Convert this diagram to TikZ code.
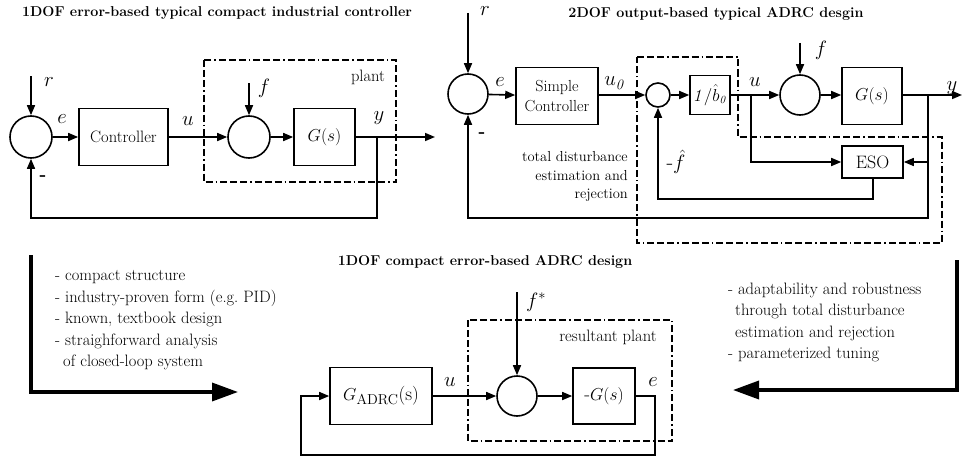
\documentclass[tikz,border=0pt]{standalone}
\usetikzlibrary{arrows.meta}
\tikzset{
  ln/.style={line width=1.6pt},
  ar/.style={line width=1.6pt,-{Triangle[length=10pt,width=8pt]}},
  big/.style={line width=3.5pt,-{Triangle[length=26pt,width=18pt]}},
  dd/.style={line width=1.5pt,dash pattern=on 7pt off 3pt on 7pt off 3pt on 7pt off 3pt on 1.5pt off 3pt},
  blk/.style={draw,line width=1.6pt,inner sep=0pt,font=\fontsize{16.5}{19}\selectfont,align=center},
  sumc/.style={draw,circle,line width=1.6pt,inner sep=0pt,minimum size=#1},
  lab/.style={inner sep=0pt,font=\fontsize{22}{22}\selectfont},
  txt/.style={inner sep=0pt,font=\fontsize{16.5}{20}\selectfont},
  ttl/.style={inner sep=0pt,font=\fontsize{14.3}{16}\selectfont\bfseries}
}
\begin{document}
\begin{tikzpicture}[x=1pt,y=-1pt]
\useasboundingbox (0,0) rectangle (966,460);
% ---------------- top left ----------------
\node[ttl] (t1) at (217,13) {1DOF error-based typical compact industrial controller};
\node[sumc=42pt] (s1) at (31,137) {};
\coordinate (r1) at (31,76);
\draw[ar] (r1) -- (s1);
\node[lab] (lr1) at (49,82) {$r$};
\node[blk,minimum width=89pt,minimum height=57pt] (ctl) at (123.5,137) {Controller};
\node[lab] (le1) at (62,119) {$e$};
\draw[ar] (s1) -- (ctl);
\draw[dd] (204,60) rectangle (396,182);
\node[txt] (pl) at (368,77) {plant};
\node[sumc=42pt] (s2) at (249,137) {};
\node[lab] (lu1) at (188,121) {$u$};
\draw[ar] (ctl) -- (s2);
\coordinate (f1) at (249,83);
\draw[ar] (f1) -- (s2);
\node[lab] (lf1) at (264,88) {$f$};
\node[blk,minimum width=61pt,minimum height=57pt,font=\fontsize{19}{19}\selectfont] (g1) at (324.5,137) {$G(s)$};
\draw[ar] (s2) -- (g1);
\coordinate (o1) at (435,137);
\coordinate (b1) at (377,137);
\coordinate (c1) at (377,218);
\draw[ar] (g1) -- (o1);
\draw[ar] (b1) -- (c1) -| (s1);
\node[lab] (ly1) at (379,118) {$y$};
\node[txt,font=\fontsize{18}{18}\selectfont\bfseries] (m1) at (43,178) {-};
% ---------------- top right ----------------
\node[ttl] (t2) at (716,14) {2DOF output-based typical ADRC desgin};
\node[sumc=40pt] (s3) at (468,94) {};
\coordinate (r2) at (468,13);
\draw[ar] (r2) -- (s3);
\node[lab] (lr2) at (485,11) {$r$};
\node[blk,minimum width=82pt,minimum height=57pt,font=\fontsize{16}{20}\selectfont] (sc) at (557,96) {Simple\\Controller};
\draw[ar] (s3) -- (sc);
\node[lab] (le2) at (500,82) {$e$};
\node[sumc=24pt] (s4) at (658,95) {};
\draw[ar] (sc.east |- s4) -- (s4);
\node[lab] (lu0) at (615,83) {$u_{\mathit{0}}$};
\node[blk,minimum width=40pt,minimum height=39pt,font=\fontsize{16}{16}\selectfont] (bb) at (710,95) {$\mathit{1}/\hat{b}_{\mathit{0}}$};
\draw[ar] (s4) -- (bb);
\node[sumc=40pt] (s5) at (800,95) {};
\draw[ar] (bb) -- (s5);
\node[lab] (lu2) at (755,82) {$u$};
\coordinate (f2) at (800,43);
\draw[ar] (f2) -- (s5);
\node[lab] (lf2) at (821,50) {$f$};
\node[blk,minimum width=60pt,minimum height=57pt,font=\fontsize{19}{19}\selectfont] (g2) at (872,96) {$G(s)$};
\draw[ar] (s5) -- (g2.west |- s5);
\coordinate (o2) at (962,95);
\draw[ar] (g2.east |- s5) -- (o2);
\node[lab] (ly2) at (952,88) {$y$};
\node[blk,minimum width=61pt,minimum height=32pt,font=\fontsize{18}{18}\selectfont] (eso) at (872.5,162) {ESO};
\coordinate (bu) at (751,95);
\coordinate (by) at (928,95);
\draw[ar] (bu) |- (eso);
\draw[ar] (by) |- (eso);
\coordinate (c2) at (873,199);
\draw[ar] (c2 |- eso.south) -- (c2) -| (s4);
\coordinate (c3) at (928,218);
\draw[ar] (by) -- (c3) -| (s3);
\node[lab] (lfh) at (676,162) {-$\hat{f}$};
\node[txt,font=\fontsize{18}{18}\selectfont\bfseries] (m2) at (482,135) {-};
\draw[dd] (637,57) -- (738,57) -- (738,137) -- (942,137) -- (942,243) -- (637,243) -- cycle;
\node[txt,anchor=base east,font=\fontsize{14.5}{18}\selectfont] (td1) at (628,161) {total disturbance};
\node[txt,anchor=base east,font=\fontsize{14.5}{18}\selectfont] (td2) at (628,180) {estimation and};
\node[txt,anchor=base east,font=\fontsize{14.5}{18}\selectfont] (td3) at (628,198) {rejection};
% ---------------- bottom ----------------
\node[ttl] (t3) at (485,262) {1DOF compact error-based ADRC design};
\coordinate (a1) at (31,255);
\coordinate (a2) at (31,392);
\coordinate (a3) at (238,392);
\draw[big] (a1) -- (a2) -- (a3);
\coordinate (a4) at (957,260);
\coordinate (a5) at (957,390);
\coordinate (a6) at (733,390);
\draw[big] (a4) -- (a5) -- (a6);
\node[txt,anchor=base west] (l1) at (55,280) {- compact structure};
\node[txt,anchor=base west] (l2) at (55,302) {- industry-proven form (e.g.\ PID)};
\node[txt,anchor=base west] (l3) at (55,323) {- known, textbook design};
\node[txt,anchor=base west] (l4) at (55,345) {- straighforward analysis};
\node[txt,anchor=base west] (l5) at (63,366) {of closed-loop system};
\node[txt,anchor=base west] (r1t) at (728,294) {- adaptability and robustness};
\node[txt,anchor=base west] (r2t) at (735,315) {through total disturbance};
\node[txt,anchor=base west] (r3t) at (735,337) {estimation and rejection};
\node[txt,anchor=base west] (r4t) at (728,358) {- parameterized tuning};
\node[blk,minimum width=102pt,minimum height=57pt,font=\fontsize{19}{19}\selectfont] (ga) at (381,396) {$G_{\mathrm{ADRC}}$(s)};
\draw[dd] (468,320) rectangle (672,441);
\node[txt] (rp) at (608,337) {resultant plant};
\node[sumc=40pt] (s6) at (517,396) {};
\draw[ar] (ga) -- (s6);
\node[lab] (lu3) at (450,382) {$u$};
\coordinate (f3) at (517,292);
\draw[ar] (f3) -- (s6);
\node[lab] (lf3) at (536,302) {$f^{*}$};
\node[blk,minimum width=62pt,minimum height=56pt,font=\fontsize{19}{19}\selectfont] (mg) at (604,396) {-$G(s)$};
\draw[ar] (s6) -- (mg);
\node[lab] (le3) at (653,382) {$e$};
\coordinate (c4) at (655,396);
\coordinate (c5) at (655,455);
\coordinate (c6) at (301,455);
\draw[ar] (mg) -- (c4) -- (c5) -| (c6) |- (ga);
\end{tikzpicture}
\end{document}
